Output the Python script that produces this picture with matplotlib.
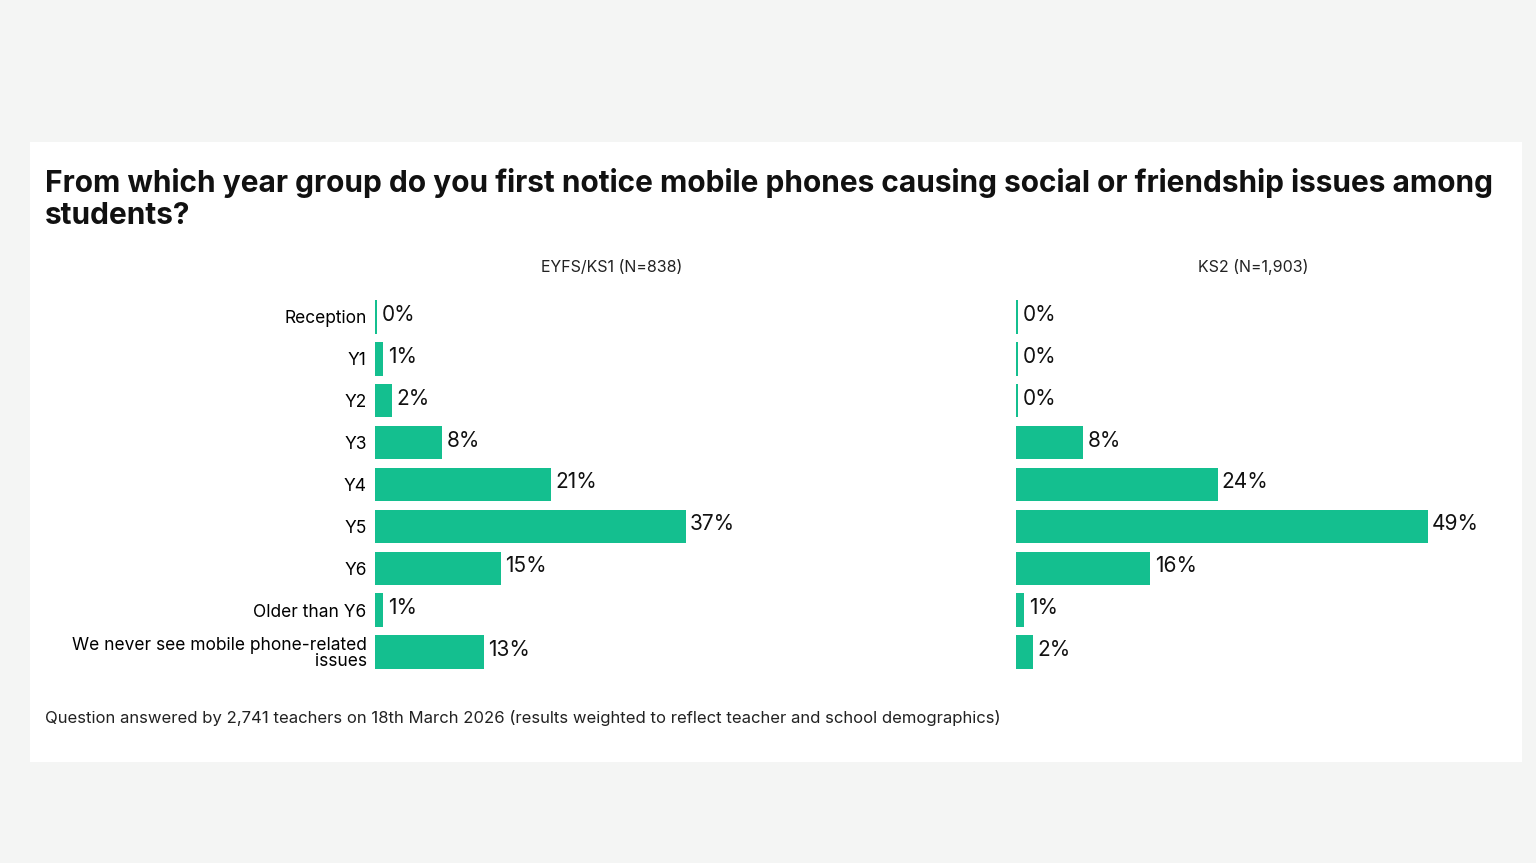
import matplotlib.pyplot as plt
from matplotlib.patches import Rectangle

plt.rcParams['font.family'] = ['Inter', 'DejaVu Sans']

categories = ["Reception", "Y1", "Y2", "Y3", "Y4", "Y5", "Y6", "Older than Y6",
              "We never see mobile phone-related\nissues"]
eyfs = [0, 1, 2, 8, 21, 37, 15, 1, 13]
ks2 = [0, 0, 0, 8, 24, 49, 16, 1, 2]
titles = ["EYFS/KS1 (N=838)", "KS2 (N=1,903)"]
green = "#14bf8f"

W, H = 1536, 863
fig = plt.figure(figsize=(W / 100, H / 100), dpi=100)
fig.patch.set_facecolor("#f4f5f4")
fig.patches.append(Rectangle((30 / W, 1 - 762 / H), 1492 / W, 620 / H,
                             transform=fig.transFigure, facecolor="white",
                             edgecolor="none", zorder=-5))

fig.text(45 / W, 1 - 168 / H,
         "From which year group do you first notice mobile phones causing social or friendship issues among\nstudents?",
         fontsize=21.5, fontweight="bold", va="top", ha="left", linespacing=1.18, color="#111111")
fig.text(45 / W, 1 - 718 / H,
         "Question answered by 2,741 teachers on 18th March 2026 (results weighted to reflect teacher and school demographics)",
         fontsize=12, va="center", ha="left", color="#222222")

lefts = [375, 1016]
for i, (vals, t) in enumerate(zip([eyfs, ks2], titles)):
    ax = fig.add_axes([lefts[i] / W, 1 - 673 / H, 462 / W, 377 / H])
    ax.set_facecolor("none")
    ax.set_zorder(5)
    y = list(range(len(categories)))
    shown = [v if v > 0 else 0.25 for v in vals]
    ax.barh(y, shown, height=0.8, color=green)
    for yy, v, s in zip(y, vals, shown):
        ax.text(s + 0.5, yy - 0.05, f"{v}%", va="center", ha="left", fontsize=15, color="#111111")
    ax.set_xlim(0, 55)
    ax.set_ylim(len(categories) - 0.5, -0.5)
    ax.set_xticks([])
    for sp in ax.spines.values():
        sp.set_visible(False)
    if i == 0:
        ax.set_yticks(y)
        ax.set_yticklabels(categories, fontsize=12.5, linespacing=0.95)
        ax.tick_params(axis="y", length=0, pad=6)
    else:
        ax.set_yticks([])
    fig.text((lefts[i] + 237) / W, 1 - 267 / H, t, ha="center", va="center", fontsize=11.5, color="#222222")

fig.savefig("out.png", dpi=100, facecolor=fig.get_facecolor())
